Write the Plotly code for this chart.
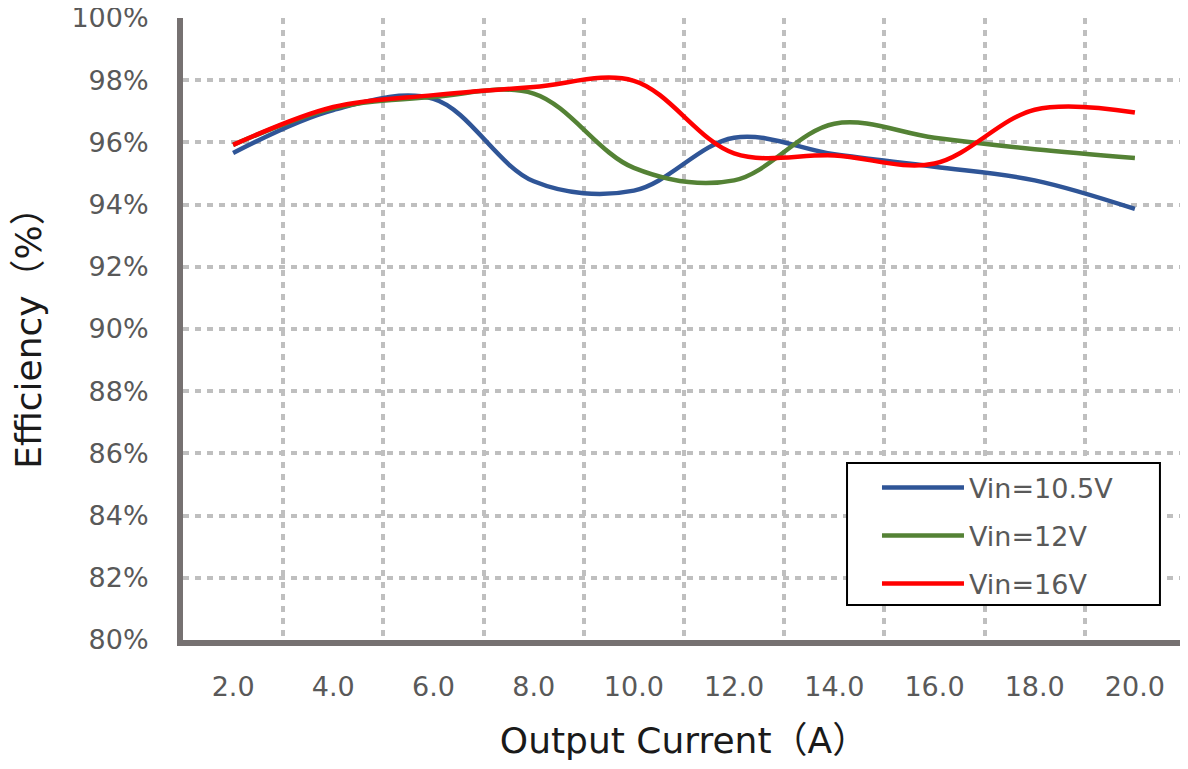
import plotly.graph_objects as go

current = [2, 4, 6, 8, 10, 12, 14, 16, 18, 20]
tick_labels = ["2.0", "4.0", "6.0", "8.0", "10.0", "12.0", "14.0", "16.0", "18.0", "20.0"]
eff_10v5 = [95.66, 97.04, 97.40, 94.75, 94.45, 96.15, 95.62, 95.22, 94.78, 93.86]
eff_12v = [95.92, 97.10, 97.46, 97.57, 95.18, 94.78, 96.60, 96.15, 95.78, 95.50]
eff_16v = [95.92, 97.14, 97.52, 97.78, 97.98, 95.65, 95.58, 95.32, 97.05, 96.96]

series = [
    ("Vin=10.5V", eff_10v5, "#2F5597"),
    ("Vin=12V", eff_12v, "#548235"),
    ("Vin=16V", eff_16v, "#FF0000"),
]

fig = go.Figure()
for name, vals, col in series:
    fig.add_trace(go.Scatter(
        x=current, y=vals, name=name, mode="lines", legendgroup=name,
        line=dict(color=col, width=4.5, shape="spline", smoothing=1.0),
    ))

grid_col = "#BFBFBF"
axis_col = "#767171"
title_font = "DejaVu Sans, Noto Sans CJK JP"

# legend frame
fig.add_shape(type="rect", xref="paper", yref="paper",
              x0=0.6627, x1=0.975, y0=0.0563, y1=0.2846,
              line=dict(color="black", width=2), fillcolor="white", layer="above")

fig.update_layout(
    width=1180, height=761,
    margin=dict(l=175, r=3, t=10, b=129),
    paper_bgcolor="white", plot_bgcolor="white",
    showlegend=True,
    legend=dict(
        x=0.6926, y=0.284, xanchor="left", yanchor="top",
        borderwidth=0, bgcolor="rgba(0,0,0,0)",
        font=dict(family="DejaVu Sans", size=27, color="#595959"),
        itemwidth=82, tracegroupgap=10,
    ),
    xaxis=dict(
        range=[1, 21], tickmode="array", tickvals=current, ticktext=tick_labels,
        showgrid=False, zeroline=False, automargin=False,
        showline=True, linecolor=axis_col, linewidth=6,
        ticks="outside", ticklen=18, tickcolor="rgba(0,0,0,0)",
        tickfont=dict(family="DejaVu Sans", size=27, color="#595959"),
        minor=dict(tick0=1, dtick=2, showgrid=True, gridcolor=grid_col, gridwidth=4, griddash="6px,6px"),
        title=dict(text="Output Current（A）", standoff=28,
                   font=dict(family=title_font, size=36, color="#1a1a1a")),
    ),
    yaxis=dict(
        range=[80, 100], dtick=2, ticksuffix="%",
        showgrid=True, gridcolor=grid_col, gridwidth=4, griddash="6px,6px",
        zeroline=False, ticklabeloverflow="allow", automargin=False,
        showline=True, linecolor=axis_col, linewidth=6,
        ticks="outside", ticklen=23, tickcolor="rgba(0,0,0,0)",
        tickfont=dict(family="DejaVu Sans", size=27, color="#595959"),
        title=dict(text="Efficiency（%）\u00a0\u00a0\u00a0", standoff=30,
                   font=dict(family=title_font, size=36, color="#1a1a1a")),
    ),
)

fig.write_html("out.html")
